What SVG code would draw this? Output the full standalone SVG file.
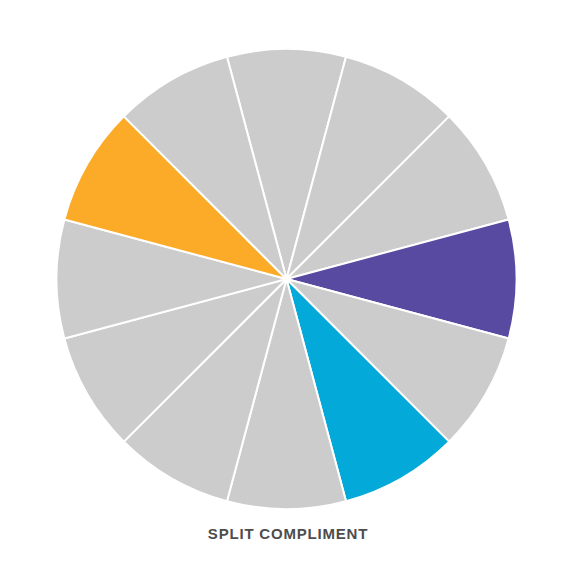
<svg xmlns="http://www.w3.org/2000/svg" width="576" height="576" viewBox="0 0 576 576">
<style>
.w{stroke:#ffffff;stroke-width:2;stroke-linejoin:round}
.g{fill:#cccccc}
.o{fill:#fbab27}
.p{fill:#5849a1}
.b{fill:#03a9d8}
.t{font-family:"Liberation Sans",Arial,sans-serif;font-weight:bold;font-size:15px;fill:#4d4d4d;letter-spacing:0.8px}
</style>
<rect width="576" height="576" fill="#ffffff"/>
<g id="wheel">
<path class="w g" d="M286.5,279 L226.97,56.84 A230,230 0 0 1 346.03,56.84 Z"/>
<path class="w g" d="M286.5,279 L346.03,56.84 A230,230 0 0 1 449.13,116.37 Z"/>
<path class="w g" d="M286.5,279 L449.13,116.37 A230,230 0 0 1 508.66,219.47 Z"/>
<path class="w p" d="M286.5,279 L508.66,219.47 A230,230 0 0 1 508.66,338.53 Z"/>
<path class="w g" d="M286.5,279 L508.66,338.53 A230,230 0 0 1 449.13,441.63 Z"/>
<path class="w b" d="M286.5,279 L449.13,441.63 A230,230 0 0 1 346.03,501.16 Z"/>
<path class="w g" d="M286.5,279 L346.03,501.16 A230,230 0 0 1 226.97,501.16 Z"/>
<path class="w g" d="M286.5,279 L226.97,501.16 A230,230 0 0 1 123.87,441.63 Z"/>
<path class="w g" d="M286.5,279 L123.87,441.63 A230,230 0 0 1 64.34,338.53 Z"/>
<path class="w g" d="M286.5,279 L64.34,338.53 A230,230 0 0 1 64.34,219.47 Z"/>
<path class="w o" d="M286.5,279 L64.34,219.47 A230,230 0 0 1 123.87,116.37 Z"/>
<path class="w g" d="M286.5,279 L123.87,116.37 A230,230 0 0 1 226.97,56.84 Z"/>
</g>
<text class="t" x="288" y="539" text-anchor="middle">SPLIT COMPLIMENT</text>
</svg>
